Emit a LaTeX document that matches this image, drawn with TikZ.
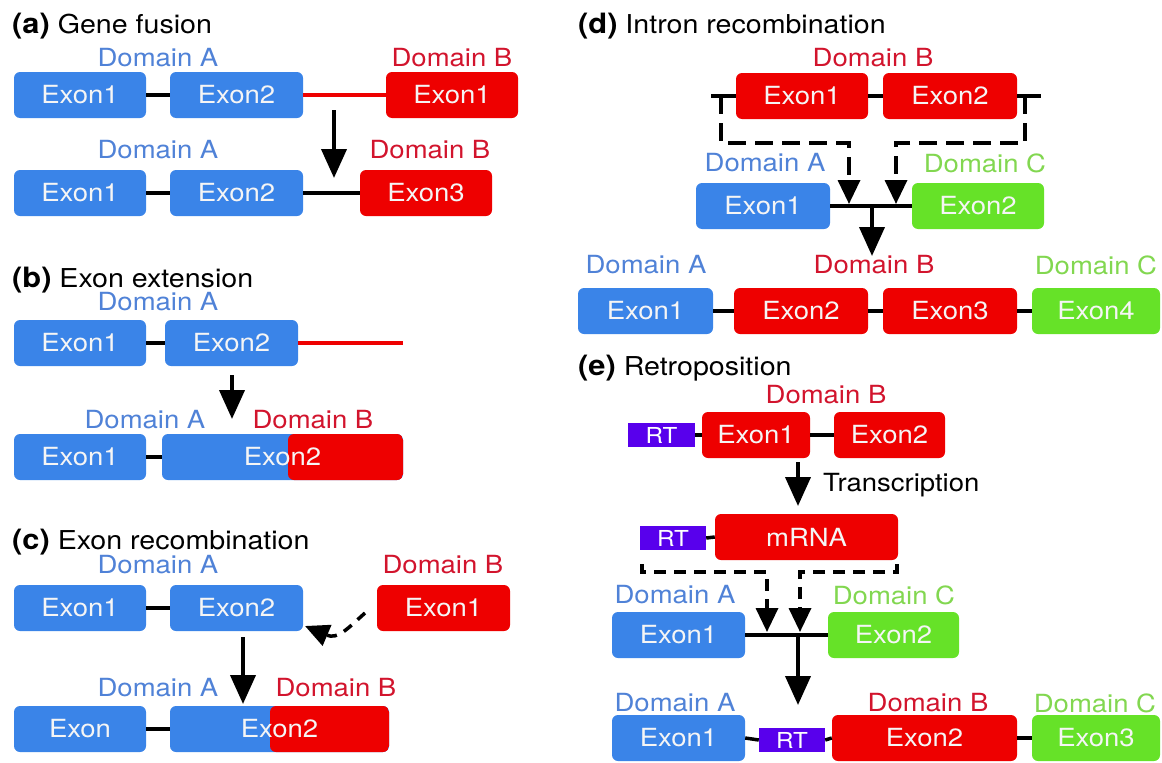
\documentclass[tikz,border=0pt]{standalone}
\usepackage{fontspec}
\setmainfont{TeX Gyre Heros}[FakeStretch=1.1]
\usetikzlibrary{arrows.meta}
\definecolor{exblue}{RGB}{58,132,232}
\definecolor{exred}{RGB}{238,0,0}
\definecolor{exgreen}{RGB}{102,226,40}
\definecolor{expurple}{RGB}{88,0,236}
\definecolor{lblblue}{RGB}{80,130,215}
\definecolor{lblred}{RGB}{210,20,45}
\definecolor{lblgreen}{RGB}{130,215,80}
\begin{document}
\begin{tikzpicture}[x=1pt,y=-1pt,
  exon/.style={rounded corners=6pt, minimum height=46pt, inner sep=0pt, text=white!96!black, font=\fontsize{25}{29}\selectfont},
  bx/.style={exon, fill=exblue},
  rx/.style={exon, fill=exred},
  gx/.style={exon, fill=exgreen},
  rtbox/.style={fill=expurple, minimum height=24pt, inner sep=0pt, text=white, font=\fontsize{22}{26}\selectfont},
  lab/.style={font=\fontsize{25}{29}\selectfont, inner sep=0pt},
  dA/.style={lab, text=lblblue},
  dB/.style={lab, text=lblred},
  dC/.style={lab, text=lblgreen},
  link/.style={line width=3.5pt},
  rlink/.style={line width=3.5pt, exred},
  bigarrow/.style={line width=4pt, -{Triangle[width=25pt,length=29pt]}},
  dasharrow/.style={line width=3.5pt, dash pattern=on 18pt off 9pt, -{Triangle[width=22pt,length=24pt]}},
  ttl/.style={anchor=west, font=\fontsize{26}{30}\selectfont, inner sep=0pt}
]
\useasboundingbox (0,0) rectangle (1162,763);

% ---------------- (a) ----------------
\node[ttl] (ta) at (12,26) {{\fontsize{28}{30}\selectfont\bfseries (a)} Gene fusion};
\node[dA] (la1) at (158,58) {Domain A};
\node[dB] (lb1) at (452,58) {Domain B};
\node[bx, minimum width=132pt] (a1) at (80,95) {Exon1};
\node[bx, minimum width=133pt] (a2) at (236.5,95) {Exon2};
\node[rx, minimum width=132pt] (a3) at (452,95) {Exon1};
\draw[link] (a1.east) -- (a2.west);
\draw[rlink] (a2.east) -- (a3.west);
\coordinate (aa1) at (334,110);
\coordinate (aa2) at (334,178);
\draw[bigarrow] (aa1) -- (aa2);
\node[dA] (la2) at (158,150) {Domain A};
\node[dB] (lb2) at (430,150) {Domain B};
\node[bx, minimum width=132pt] (a4) at (80,193) {Exon1};
\node[bx, minimum width=133pt] (a5) at (236.5,193) {Exon2};
\node[rx, minimum width=132pt] (a6) at (426,193) {Exon3};
\draw[link] (a4.east) -- (a5.west);
\draw[link] (a5.east) -- (a6.west);

% ---------------- (b) ----------------
\node[ttl] (tb) at (12,280) {{\fontsize{28}{30}\selectfont\bfseries (b)} Exon extension};
\node[dA] (lb3) at (158,302) {Domain A};
\node[bx, minimum width=132pt] (b1) at (80,343) {Exon1};
\node[bx, minimum width=133pt] (b2) at (231.5,343) {Exon2};
\coordinate (bend) at (403,343);
\draw[link] (b1.east) -- (b2.west);
\draw[rlink] (b2.east) -- (bend);
\coordinate (ba1) at (232,375);
\coordinate (ba2) at (232,419);
\draw[bigarrow] (ba1) -- (ba2);
\node[dA] (lb4) at (145,420) {Domain A};
\node[dB] (lb5) at (313,420) {Domain B};
\node[bx, minimum width=132pt] (b3) at (80,457) {Exon1};
\node[bx, minimum width=241pt, path picture={\fill[exred] ([xshift=5.5pt]path picture bounding box.south) rectangle (path picture bounding box.north east);}] (b4) at (282.5,457) {Exon2};
\draw[link] (b3.east) -- (b4.west);

% ---------------- (c) ----------------
\node[ttl] (tc) at (12,542) {{\fontsize{28}{30}\selectfont\bfseries (c)} Exon recombination};
\node[dA] (lc1) at (158,565) {Domain A};
\node[dB] (lc2) at (443,565) {Domain B};
\node[bx, minimum width=132pt] (c1) at (80,608) {Exon1};
\node[bx, minimum width=133pt] (c2) at (236.5,608) {Exon2};
\node[rx, minimum width=133pt] (c3) at (443.5,608) {Exon1};
\draw[link] (c1.east) -- (c2.west);
\coordinate (cd1) at (365,613);
\coordinate (cd2) at (305,626);
\draw[dasharrow, dash pattern=on 10pt off 8pt] (cd1) .. controls (348,628) and (338,640) .. (cd2);
\coordinate (ca1) at (243,637);
\coordinate (ca2) at (243,704);
\draw[bigarrow] (ca1) -- (ca2);
\node[dA] (lc3) at (158,688) {Domain A};
\node[dB] (lc4) at (336,688) {Domain B};
\node[bx, minimum width=132pt] (c4) at (80,729) {Exon};
\node[bx, minimum width=219pt, path picture={\fill[exred] ([xshift=-9.5pt]path picture bounding box.south) rectangle (path picture bounding box.north east);}] (c5) at (279.5,729) {Exon2};
\draw[link] (c4.east) -- (c5.west);

% ---------------- (d) ----------------
\node[ttl] (td) at (578,26) {{\fontsize{28}{30}\selectfont\bfseries (d)} Intron recombination};
\node[dB] (ld1) at (873,58) {Domain B};
\node[rx, minimum width=132pt] (d1) at (802,96) {Exon1};
\node[rx, minimum width=134pt] (d2) at (950,96) {Exon2};
\coordinate (dl) at (711,96);
\coordinate (dr) at (1041,96);
\draw[link] (dl) -- (d1.west);
\draw[link] (d1.east) -- (d2.west);
\draw[link] (d2.east) -- (dr);
\coordinate (dp1) at (721,96);
\coordinate (dp2) at (721,143);
\coordinate (dp3) at (849,143);
\coordinate (dp4) at (849,204);
\coordinate (dq1) at (1025,96);
\coordinate (dq2) at (1025,143);
\coordinate (dq3) at (896,143);
\coordinate (dq4) at (896,204);
\draw[dasharrow] (dp1) -- (dp2) -- (dp3) -- (dp4);
\draw[dasharrow] (dq1) -- (dq2) -- (dq3) -- (dq4);
\node[dA] (ld2) at (765,163) {Domain A};
\node[dC] (ld3) at (985,163) {Domain C};
\node[bx, minimum width=134pt] (d3) at (763,206) {Exon1};
\node[gx, minimum width=132pt] (d4) at (978,206) {Exon2};
\draw[link] (d3.east) -- (d4.west);
\coordinate (da1) at (872,206);
\coordinate (da2) at (872,256);
\draw[bigarrow] (da1) -- (da2);
\node[dA] (ld4) at (646,265) {Domain A};
\node[dB] (ld5) at (874,265) {Domain B};
\node[dC] (ld6) at (1096,265) {Domain C};
\node[bx, minimum width=135pt] (d5) at (645.5,311) {Exon1};
\node[rx, minimum width=134pt] (d6) at (801,311) {Exon2};
\node[rx, minimum width=134pt] (d7) at (950,311) {Exon3};
\node[gx, minimum width=128pt] (d8) at (1096,311) {Exon4};
\draw[link] (d5.east) -- (d6.west);
\draw[link] (d6.east) -- (d7.west);
\draw[link] (d7.east) -- (d8.west);

% ---------------- (e) ----------------
\node[ttl] (te) at (578,368) {{\fontsize{28}{30}\selectfont\bfseries (e)} Retroposition};
\node[dB] (le1) at (826,395) {Domain B};
\node[rtbox, minimum width=67pt] (e1) at (661.5,435) {RT};
\node[rx, minimum width=108pt] (e2) at (756,435) {Exon1};
\node[rx, minimum width=111pt] (e3) at (889.5,435) {Exon2};
\draw[link] (e1.east) -- (e2.west);
\draw[link] (e2.east) -- (e3.west);
\coordinate (ea1) at (798,462);
\coordinate (ea2) at (798,506);
\draw[bigarrow] (ea1) -- (ea2);
\node[lab, anchor=west] (etr) at (823,485) {Transcription};
\node[rtbox, minimum width=66pt] (e4) at (673,538) {RT};
\node[rx, minimum width=183pt] (e5) at (806.5,537) {mRNA};
\draw[link] (e4.east) -- (e5.west);
\coordinate (ep1) at (642,564);
\coordinate (ep2) at (642,572);
\coordinate (ep3) at (767,572);
\coordinate (ep4) at (767,632);
\coordinate (eq1) at (897,564);
\coordinate (eq2) at (897,572);
\coordinate (eq3) at (800,572);
\coordinate (eq4) at (800,632);
\draw[dasharrow, dash pattern=on 12pt off 8pt] (ep1) -- (ep2) -- (ep3) -- (ep4);
\draw[dasharrow, dash pattern=on 12pt off 8pt] (eq1) -- (eq2) -- (eq3) -- (eq4);
\node[dA] (le2) at (675,595) {Domain A};
\node[dC] (le3) at (894,595) {Domain C};
\node[bx, minimum width=133pt] (e6) at (678.5,635) {Exon1};
\node[gx, minimum width=131pt] (e7) at (893.5,635) {Exon2};
\draw[link] (e6.east) -- (e7.west);
\coordinate (eb1) at (798,635);
\coordinate (eb2) at (798,705);
\draw[bigarrow] (eb1) -- (eb2);
\node[dA] (le4) at (675,703) {Domain A};
\node[dB] (le5) at (928,703) {Domain B};
\node[dC] (le6) at (1095,703) {Domain C};
\node[bx, minimum width=133pt] (e8) at (678.5,738) {Exon1};
\node[rtbox, minimum width=66pt] (e9) at (792,740) {RT};
\node[rx, minimum width=185pt] (e10) at (924.5,738) {Exon2};
\node[gx, minimum width=128pt] (e11) at (1096,738) {Exon3};
\draw[link] (e8.east) -- (e9.west);
\draw[link] (e9.east) -- (e10.west);
\draw[link] (e10.east) -- (e11.west);
\end{tikzpicture}
\end{document}
